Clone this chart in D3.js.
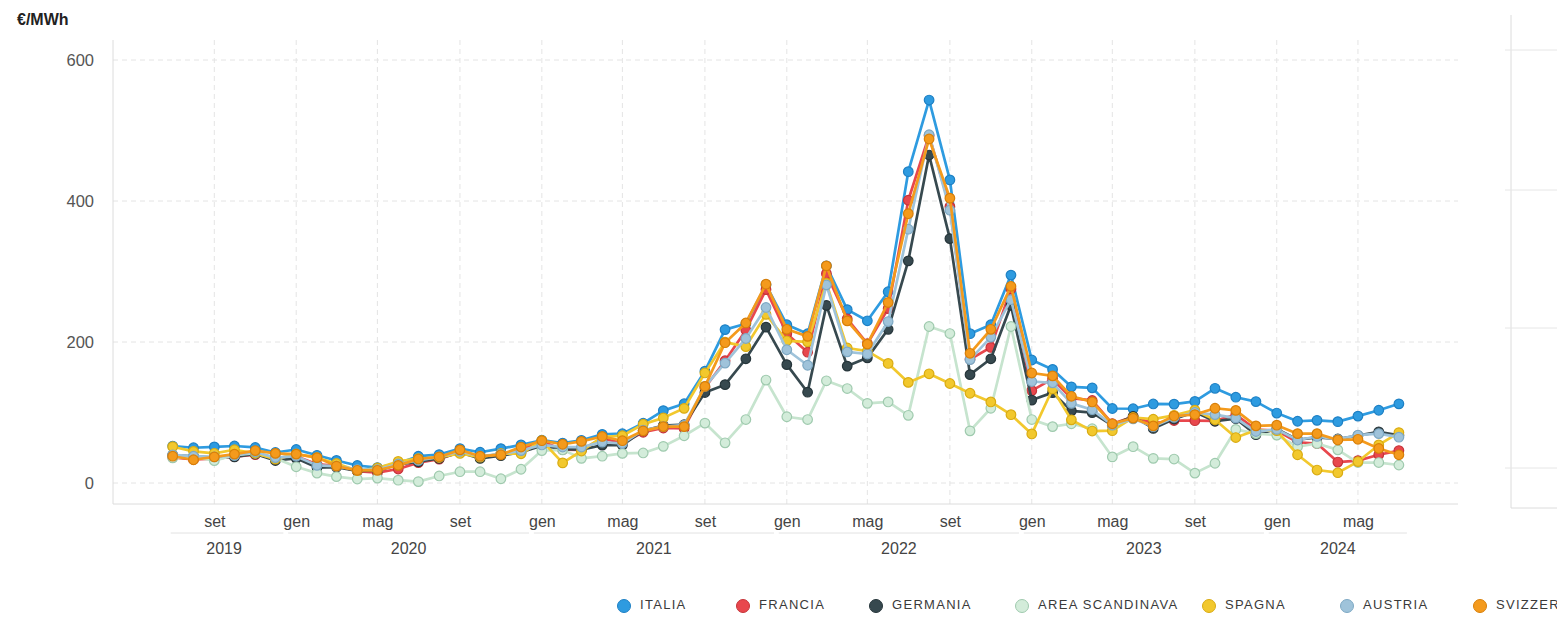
<!DOCTYPE html>
<html>
<head>
<meta charset="utf-8">
<script src="https://d3js.org/d3.v7.min.js"></script>
<style>
  body { margin: 0; overflow: hidden; background: #fff; }
  text { font-family: "Liberation Sans", Arial, sans-serif; }
  .grid line { stroke: #e4e4e4; stroke-dasharray: 5,4; }
  .frame { stroke: #dcdcdc; fill: none; }
  .tick text { fill: #555; font-size: 16px; }
  .year { fill: #444; font-size: 16px; }
  .legend text { fill: #3a3a3a; font-size: 13px; letter-spacing: 1.3px; }
</style>
</head>
<body>
<div id="chart"></div>
<script>
// monthly prices, jul 2019 - jul 2024
var months = ["2019-07","2019-08","2019-09","2019-10","2019-11","2019-12",
  "2020-01","2020-02","2020-03","2020-04","2020-05","2020-06","2020-07","2020-08","2020-09","2020-10","2020-11","2020-12",
  "2021-01","2021-02","2021-03","2021-04","2021-05","2021-06","2021-07","2021-08","2021-09","2021-10","2021-11","2021-12",
  "2022-01","2022-02","2022-03","2022-04","2022-05","2022-06","2022-07","2022-08","2022-09","2022-10","2022-11","2022-12",
  "2023-01","2023-02","2023-03","2023-04","2023-05","2023-06","2023-07","2023-08","2023-09","2023-10","2023-11","2023-12",
  "2024-01","2024-02","2024-03","2024-04","2024-05","2024-06","2024-07"];

var italia = [52.4,50.0,51.2,52.5,50.4,43.3,
  47.5,39.3,32.0,24.8,21.8,28.0,38.0,40.3,48.8,43.6,48.8,54.0,
  60.7,56.6,60.4,69.0,69.9,84.8,102.7,112.4,158.6,217.6,225.9,281.2,
  224.5,211.7,308.1,245.9,230.1,271.3,441.6,543.2,429.9,211.8,224.5,294.9,
  174.5,161.1,136.4,135.0,105.7,105.3,112.1,111.9,115.7,134.3,121.7,115.5,
  99.2,87.6,88.9,87.0,94.9,103.2,112.3];
var francia = [36.4,33.5,34.6,37.5,40.3,35.6,
  38.0,26.6,24.6,16.9,14.7,19.8,28.9,33.8,44.3,36.7,41.2,47.2,
  59.3,47.3,47.0,63.2,56.8,72.0,78.0,77.4,135.2,173.4,216.8,274.3,
  211.7,185.5,296.9,232.9,197.6,247.3,401.1,492.9,392.0,175.6,192.3,275.3,
  131.0,147.6,120.3,117.1,84.1,93.9,84.6,88.6,88.4,88.1,96.9,75.6,
  74.2,57.8,56.0,29.7,31.7,40.0,46.0];
var germania = [39.7,37.7,35.9,37.0,41.2,31.9,
  35.0,21.9,22.5,17.1,17.6,26.2,30.1,34.9,43.4,34.9,38.8,43.5,
  52.8,48.0,47.2,53.7,53.6,74.1,81.5,82.7,128.4,139.5,176.2,221.1,
  167.9,128.8,252.0,165.8,177.5,218.0,315.1,465.2,346.7,153.7,176.2,252.0,
  117.6,128.2,102.3,99.9,81.9,94.6,77.4,90.8,100.6,87.6,91.2,68.6,
  76.6,61.3,64.7,62.4,67.3,72.6,67.7];
var scandinavia = [35.6,36.9,31.7,39.4,42.2,35.0,
  23.0,14.0,9.0,5.6,7.0,4.0,2.0,10.0,16.0,16.0,6.0,19.5,
  46.0,47.0,35.0,38.0,42.0,42.6,52.0,67.0,85.0,57.0,90.0,146.0,
  94.0,90.0,145.0,134.0,113.0,115.0,96.0,222.0,212.0,74.0,106.0,222.0,
  90.0,80.0,84.0,77.0,37.0,51.5,35.0,34.0,14.0,28.0,76.0,70.0,
  68.0,51.5,56.0,47.0,29.0,29.0,25.5];
var spagna = [51.5,44.9,42.1,47.2,42.2,33.8,
  41.1,35.9,27.7,17.7,21.3,30.6,34.6,36.2,41.9,36.6,41.9,41.5,
  60.2,28.5,45.4,65.0,67.1,83.3,92.4,105.9,156.1,199.9,193.4,239.2,
  201.7,200.2,283.3,191.5,187.1,169.6,142.7,154.9,141.1,127.3,115.0,96.9,
  69.6,133.4,89.6,73.7,74.2,92.9,90.5,96.0,103.3,89.7,64.5,74.7,
  74.3,40.1,18.4,14.6,30.4,54.0,71.5];
var austria = [40,38,37,39,44,36,
  38,25,24,19,19,27,32,37,45,38,41,46,
  54,51,51,58,56,75,80,82,137,170,205,249,
  189,167,281,186,183,229,360,494,387,175,207,260,
  144,142,113,104,82,91,80,93,100,97,92,73,
  76,61,66,62,68,70,65];
var svizzera = [38,33,37,41,46,42,
  41,36,24,18,18,25,34,37,47,38,40,51,
  60,55,59,66,60,74,80,80,137,199,227,282,
  218,208,308,230,197,256,382,488,404,184,218,279,
  156,152,123,115,84,92,81,95,97,106,103,81,
  82,70,70,61,62,49,40];

var names = ["ITALIA","FRANCIA","GERMANIA","AREA SCANDINAVA","SPAGNA","AUSTRIA","SVIZZERA"];
var monthNames = ["gen","feb","mar","apr","mag","giu","lug","ago","set","ott","nov","dic"];
var yTicks = [0, 200, 400, 600];

var series = [
  { name: names[0], values: italia,      fill: "#2e9be0", stroke: "#1e80c4", line: "#2e9be0" },
  { name: names[1], values: francia,     fill: "#e8474d", stroke: "#c53338", line: "#e8474d" },
  { name: names[2], values: germania,    fill: "#37494f", stroke: "#26353a", line: "#37494f" },
  { name: names[3], values: scandinavia, fill: "#d3ecda", stroke: "#9fcaae", line: "#c6e4ce" },
  { name: names[4], values: spagna,      fill: "#f2c82d", stroke: "#d9ab12", line: "#f2c82d" },
  { name: names[5], values: austria,     fill: "#9fc3da", stroke: "#7ea9c4", line: "#9fc3da" },
  { name: names[6], values: svizzera,    fill: "#f49a1c", stroke: "#d87f08", line: "#f49a1c" }
];

var width = 1557, height = 619;
var plot = { left: 113, right: 1458, top: 40, bottom: 504 };

var parse = d3.timeParse("%Y-%m");
var dates = months.map(parse);

var svg = d3.select("#chart").append("svg")
  .attr("width", width)
  .attr("height", height);

var x = d3.scaleTime()
  .domain([dates[0], dates[dates.length - 1]])
  .range([172.7, 1398.9]);
var y = d3.scaleLinear()
  .domain([0, 600])
  .range([483, 60]);

var xTicks = x.ticks(d3.timeMonth.every(4));

// gridlines
var grid = svg.append("g").attr("class", "grid");
grid.selectAll(".h").data(yTicks).enter().append("line")
  .attr("x1", plot.left).attr("x2", plot.right)
  .attr("y1", function (d) { return y(d); }).attr("y2", function (d) { return y(d); });
grid.selectAll(".v").data(xTicks).enter().append("line")
  .attr("x1", function (d) { return x(d); }).attr("x2", function (d) { return x(d); })
  .attr("y1", plot.top).attr("y2", plot.bottom);

// axis frame
svg.append("line").attr("class", "frame")
  .attr("x1", plot.left).attr("x2", plot.left).attr("y1", plot.top).attr("y2", plot.bottom);
svg.append("line").attr("class", "frame")
  .attr("x1", plot.left).attr("x2", plot.right).attr("y1", plot.bottom).attr("y2", plot.bottom);

// y axis
var yAxis = svg.append("g")
  .attr("transform", "translate(" + plot.left + ",0)")
  .call(d3.axisLeft(y).tickValues(yTicks).tickSize(0).tickPadding(19));
yAxis.select(".domain").remove();
yAxis.selectAll("text").style("font-size", "16.5px");

// x axis
var xAxis = svg.append("g")
  .attr("transform", "translate(0," + plot.bottom + ")")
  .call(d3.axisBottom(x).tickValues(xTicks).tickSize(0).tickPadding(12)
    .tickFormat(function (d) { return monthNames[d.getMonth()]; }));
xAxis.select(".domain").remove();
xAxis.selectAll("text").style("fill", "#444");

// year groups under the months
var years = d3.groups(dates, function (d) { return d.getFullYear(); });
var yearG = svg.append("g");
years.forEach(function (g) {
  var first = g[1][0], last = g[1][g[1].length - 1];
  var x0 = Math.max(x(first) - 8, x(dates[0]) - 2);
  var x1 = x(last) + 8;
  yearG.append("line")
    .attr("x1", x0).attr("x2", x1)
    .attr("y1", 533).attr("y2", 533)
    .style("stroke", "#e2e2e2");
  yearG.append("text")
    .attr("class", "year")
    .attr("x", (x(first) + x(last)) / 2)
    .attr("y", 554)
    .attr("text-anchor", "middle")
    .text(g[0]);
});

// unit label
svg.append("text")
  .attr("x", 17).attr("y", 25)
  .style("font-size", "16px").style("font-weight", "bold").style("fill", "#222")
  .text("€/MWh");

// lines and points
var line = d3.line()
  .x(function (d, i) { return x(dates[i]); })
  .y(function (d) { return y(d); });

series.forEach(function (s) {
  var g = svg.append("g");
  g.append("path")
    .datum(s.values)
    .attr("d", line)
    .style("fill", "none")
    .style("stroke", s.line)
    .style("stroke-width", 2.7)
    .style("stroke-linejoin", "round");
  g.selectAll("circle").data(s.values).enter().append("circle")
    .attr("cx", function (d, i) { return x(dates[i]); })
    .attr("cy", function (d) { return y(d); })
    .attr("r", 4.8)
    .style("fill", s.fill)
    .style("stroke", s.stroke)
    .style("stroke-width", 1.2);
});

// legend
var legendX = [624, 743, 876, 1022, 1209, 1347, 1480];
var legend = svg.append("g").attr("class", "legend");
series.forEach(function (s, i) {
  legend.append("circle")
    .attr("cx", legendX[i]).attr("cy", 606).attr("r", 6.5)
    .style("fill", s.fill).style("stroke", s.stroke).style("stroke-width", 1);
  legend.append("text")
    .attr("x", legendX[i] + 16).attr("y", 606)
    .attr("dominant-baseline", "middle")
    .text(s.name);
});

// edge of the neighbouring panel
var side = svg.append("g");
side.append("line").attr("class", "frame")
  .attr("x1", 1511).attr("x2", 1511).attr("y1", 15).attr("y2", 508);
side.append("line").attr("class", "frame")
  .attr("x1", 1511).attr("x2", width).attr("y1", 508).attr("y2", 508);
side.selectAll(".t").data([50, 190, 328, 468]).enter().append("line")
  .attr("x1", 1505).attr("x2", width)
  .attr("y1", function (d) { return d; }).attr("y2", function (d) { return d; })
  .style("stroke", "#e6e6e6");
</script>
</body>
</html>
